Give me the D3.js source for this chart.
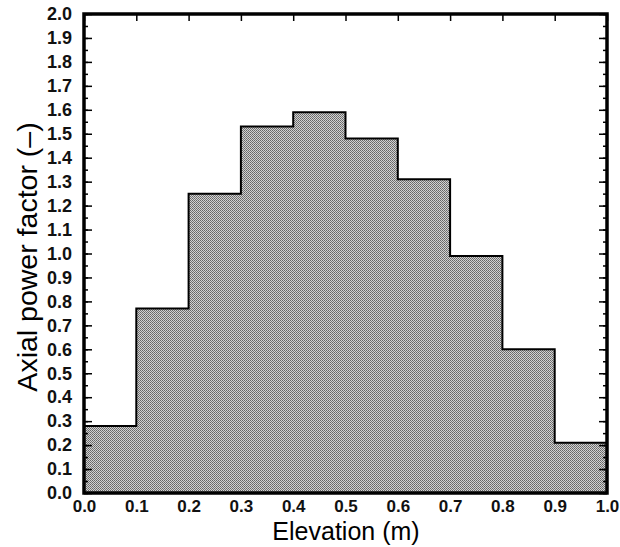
<!DOCTYPE html>
<html><head><meta charset="utf-8">
<script src="https://cdn.jsdelivr.net/npm/d3@7"></script>
<style>body{margin:0;background:#fff;overflow:hidden}svg{display:block}</style>
</head><body>
<svg id="c" width="620" height="547"></svg>
<script>
const binEdges = [0.0,0.1,0.2,0.3,0.4,0.5,0.6,0.7,0.8,0.9,1.0];
const powerFactor = [0.28,0.77,1.25,1.53,1.59,1.48,1.31,0.99,0.60,0.21];
const xTicks = [0.0,0.1,0.2,0.3,0.4,0.5,0.6,0.7,0.8,0.9,1.0];
const yTicks = d3.range(0,21).map(i=>i/10);
const yMinor = d3.range(0,41).map(i=>i/20);

const svg = d3.select("#c");
const L=84,R=607,T=14,B=493;
const x = d3.scaleLinear().domain([0,1]).range([L,R]);
const y = d3.scaleLinear().domain([0,2]).range([B,T]);

const defs = svg.append("defs");
const pat = defs.append("pattern").attr("id","dith").attr("width",2).attr("height",2).attr("patternUnits","userSpaceOnUse");
pat.append("rect").attr("width",2).attr("height",2).attr("fill","#d2d2d2");
pat.append("rect").attr("x",0).attr("y",0).attr("width",1).attr("height",1).attr("fill","#666");
pat.append("rect").attr("x",1).attr("y",1).attr("width",1).attr("height",1).attr("fill","#777");

// step area
const pts = [];
powerFactor.forEach((v,i)=>{pts.push([binEdges[i],v]);pts.push([binEdges[i+1],v]);});
const area = d3.area().x(d=>x(d[0])).y0(y(0)).y1(d=>y(d[1]));
svg.append("path").datum(pts).attr("d",area).attr("fill","url(#dith)");
const line = d3.line().x(d=>x(d[0])).y(d=>y(d[1]));
svg.append("path").datum([[0,powerFactor[0]],...pts,[1,0]]).attr("d",line)
  .attr("fill","none").attr("stroke","#000").attr("stroke-width",2);

// ticks
const font = "'Liberation Sans', Arial, Helvetica, sans-serif";
const gL = svg.append("g").attr("transform",`translate(${L},0)`)
  .call(d3.axisRight(y).tickValues(yMinor).tickSize(4).tickFormat(""));
const gL2 = svg.append("g").attr("transform",`translate(${L},0)`)
  .call(d3.axisRight(y).tickValues(yTicks).tickSize(8).tickFormat(""));
const gR = svg.append("g").attr("transform",`translate(${R},0)`)
  .call(d3.axisLeft(y).tickValues(yMinor).tickSize(4).tickFormat(""));
const gR2 = svg.append("g").attr("transform",`translate(${R},0)`)
  .call(d3.axisLeft(y).tickValues(yTicks).tickSize(8).tickFormat(""));
const gT = svg.append("g").attr("transform",`translate(0,${T})`)
  .call(d3.axisBottom(x).tickValues(xTicks).tickSize(7).tickFormat(""));
[gL,gL2,gR,gR2,gT].forEach(g=>{g.select(".domain").remove();g.selectAll("line").attr("stroke","#000").attr("stroke-width",1.5);});

// frame
svg.append("rect").attr("x",L).attr("y",T).attr("width",R-L).attr("height",B-T)
  .attr("fill","none").attr("stroke","#000").attr("stroke-width",3.5);

// tick labels
const gy = svg.append("g").attr("transform",`translate(${L},0)`)
  .call(d3.axisLeft(y).tickValues(yTicks).tickSize(0).tickPadding(12).tickFormat(d3.format(".1f")));
gy.select(".domain").remove();
gy.selectAll("text").attr("font-family",font).attr("font-size",18).attr("font-weight","bold").attr("fill","#111");
const gx = svg.append("g").attr("transform",`translate(0,${B})`)
  .call(d3.axisBottom(x).tickValues(xTicks).tickSize(0).tickPadding(7).tickFormat(d3.format(".1f")));
gx.select(".domain").remove();
gx.selectAll("text").attr("font-family",font).attr("font-size",17).attr("font-weight","bold").attr("fill","#111");

svg.append("text").attr("x",346).attr("y",540).attr("text-anchor","middle")
  .attr("font-family",font).attr("font-size",25).attr("fill","#000").text("Elevation (m)");
svg.append("text").attr("transform",`translate(37,257) rotate(-90)`).attr("text-anchor","middle")
  .attr("font-family",font).attr("font-size",28.5).attr("fill","#000").text("Axial power factor (–)");
</script>
</body></html>
